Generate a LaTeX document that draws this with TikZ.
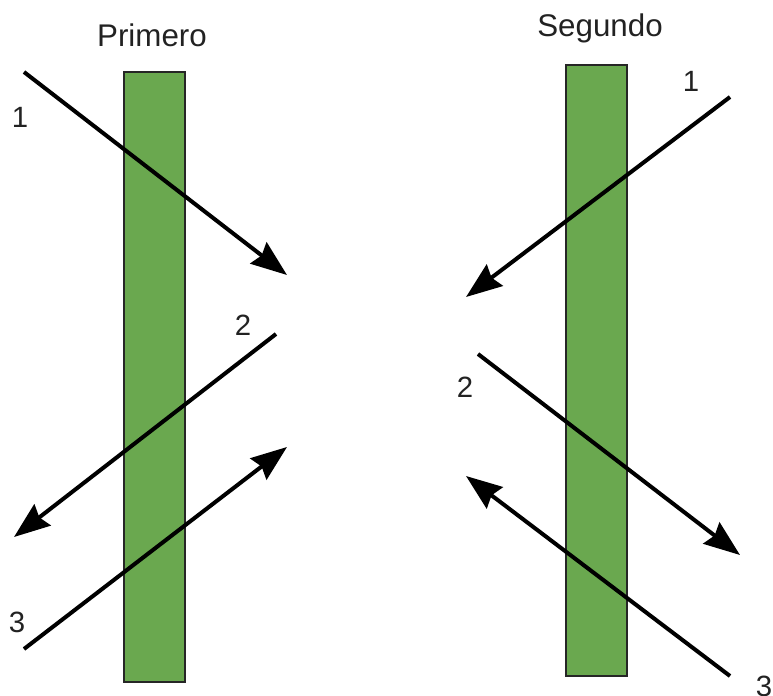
\documentclass[tikz,border=0pt]{standalone}
\usepackage{fontspec}
\setmainfont{Liberation Sans}
\usetikzlibrary{arrows.meta}
\definecolor{barfill}{HTML}{6AA84F}
\definecolor{txt}{HTML}{222222}
\begin{document}
\begin{tikzpicture}[x=0.75pt,y=-0.75pt,
  bar/.style={draw=black!85,line width=0.9pt,fill=barfill,minimum width=45.75pt,inner sep=0,outer sep=0},
  lbl/.style={anchor=base,inner sep=0,text=txt,font=\fontsize{22}{24}\selectfont},
  ttl/.style={anchor=base,inner sep=0,text=txt,font=\fontsize{23.5}{26}\selectfont},
  ray/.style={line width=3pt,-{Stealth[length=27pt,width=20pt,inset=3pt]}}]
\useasboundingbox (0,0) rectangle (773,695);
\clip (0,0) rectangle (773,695);
% bars
\node[bar,minimum height=457.5pt] (barA) at (154.5,377) {};
\node[bar,minimum height=458.25pt] (barB) at (596.5,370.5) {};
% titles
\node[ttl] (tA) at (152,47) {Primero};
\node[ttl] (tB) at (600,37) {Segundo};
% left rays
\coordinate (a1s) at (24,72);   \coordinate (a1e) at (287,275);
\coordinate (a2s) at (276,334); \coordinate (a2e) at (14,537);
\coordinate (a3s) at (24,649);  \coordinate (a3e) at (287,447);
% right rays
\coordinate (b1s) at (730,97);  \coordinate (b1e) at (466,297);
\coordinate (b2s) at (478,354); \coordinate (b2e) at (740,555);
\coordinate (b3s) at (730,676); \coordinate (b3e) at (466,476);
\draw[ray] (a1s) -- (a1e);
\draw[ray] (a2s) -- (a2e);
\draw[ray] (a3s) -- (a3e);
\draw[ray] (b1s) -- (b1e);
\draw[ray] (b2s) -- (b2e);
\draw[ray] (b3s) -- (b3e);
% labels
\node[lbl] (la1) at (20,128) {1};
\node[lbl] (la2) at (243,335) {2};
\node[lbl] (la3) at (17,632) {3};
\node[lbl] (lb1) at (691,92) {1};
\node[lbl] (lb2) at (465,397) {2};
\node[lbl] (lb3) at (764,696) {3};
\end{tikzpicture}
\end{document}
